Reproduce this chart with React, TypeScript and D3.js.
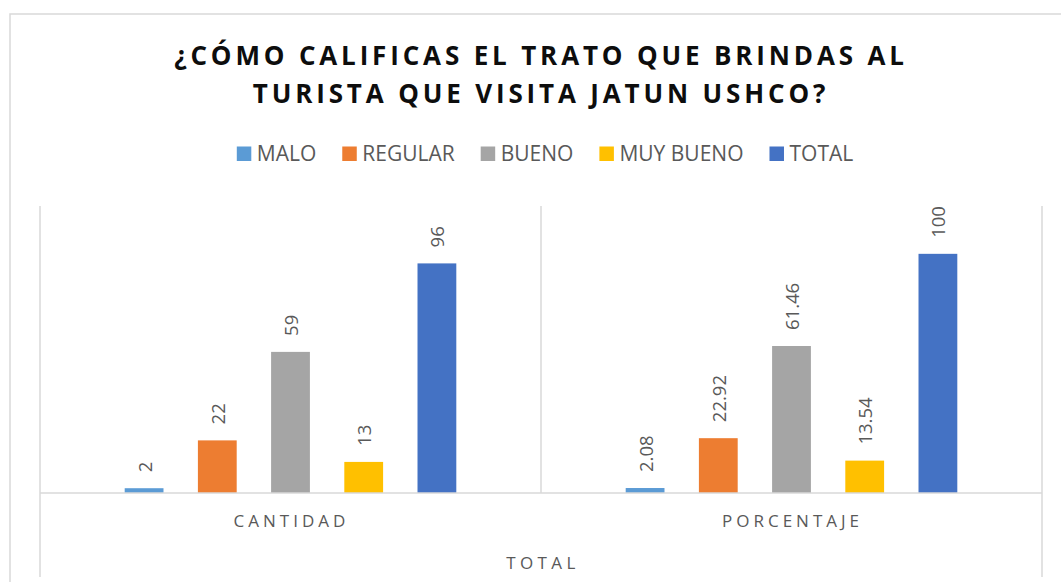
import { useEffect, useRef } from 'react'
import * as d3 from 'd3'

const titleLines = ['¿CÓMO CALIFICAS EL TRATO QUE BRINDAS AL', 'TURISTA QUE VISITA JATUN USHCO?']
const categories = ['CANTIDAD', 'PORCENTAJE']
const series = ['MALO', 'REGULAR', 'BUENO', 'MUY BUENO', 'TOTAL']
const colors = ['#5B9BD5', '#ED7D31', '#A5A5A5', '#FFC000', '#4472C4']
const cantidad = [2, 22, 59, 13, 96]
const porcentaje = [2.08, 22.92, 61.46, 13.54, 100]
const outerLabel = 'TOTAL'

const Chart = () => {
    const ref = useRef<SVGSVGElement | null>(null)

    useEffect(() => {
        if (!ref.current) return
        const width = 1061
        const height = 582
        const svg = d3.select(ref.current)
        svg.selectAll('*').remove()
        svg.attr('width', width).attr('height', height)

        const font = "'Open Sans', 'Noto Sans', sans-serif"
        const grid = '#D9D9D9'
        const textColor = '#595959'

        // frame
        svg.append('rect')
            .attr('x', 10).attr('y', 14)
            .attr('width', 1100).attr('height', 620)
            .attr('fill', '#fff')
            .attr('stroke', grid).attr('stroke-width', 1.5)

        // title
        const title = svg.append('text')
            .attr('text-anchor', 'middle')
            .attr('font-family', font)
            .attr('font-weight', 700)
            .attr('font-size', 26)
            .attr('letter-spacing', 3.85)
            .attr('fill', '#0D0D0D')
        titleLines.forEach((t, i) => {
            title.append('tspan').attr('x', 541).attr('y', 65 + i * 38).text(t)
        })

        // legend
        const legend = svg.append('g')
        const items = legend.selectAll('g').data(series).join('g')
        items.append('rect')
            .attr('y', 146.5).attr('width', 14.5).attr('height', 14.5)
            .attr('fill', (_, i) => colors[i])
        items.append('text')
            .attr('y', 161)
            .attr('font-family', font)
            .attr('font-size', 21)
            .attr('fill', textColor)
            .text(d => d)
        let cx = 0
        const positions: number[] = []
        items.each(function () {
            const w = (d3.select(this).select('text').node() as SVGTextElement).getComputedTextLength()
            positions.push(cx)
            cx += 20 + w + 26
        })
        const total = cx - 26
        const start = 545 - total / 2
        items.each(function (_, i) {
            const g = d3.select(this)
            g.select('rect').attr('x', start + positions[i])
            g.select('text').attr('x', start + positions[i] + 20)
        })

        // scales
        const x0 = d3.scaleBand().domain(categories).range([40, 1042]).padding(0)
        const x1 = d3.scaleBand().domain(series).range([0, x0.bandwidth()])
            .paddingInner(0.47).paddingOuter(1.157)
        const y = d3.scaleLinear().domain([0, 120]).range([493, 206])

        // vertical divider lines
        svg.append('line').attr('x1', 40).attr('x2', 40).attr('y1', 206).attr('y2', 577)
            .attr('stroke', grid).attr('stroke-width', 1.5)
        svg.append('line').attr('x1', 1042).attr('x2', 1042).attr('y1', 206).attr('y2', 577)
            .attr('stroke', grid).attr('stroke-width', 1.5)
        categories.slice(1).forEach(c => {
            const xx = x0(c)!
            svg.append('line').attr('x1', xx).attr('x2', xx).attr('y1', 206).attr('y2', y(0))
                .attr('stroke', grid).attr('stroke-width', 1.5)
        })

        const data = [cantidad, porcentaje]
        const groups = svg.selectAll('g.grp').data(categories).join('g')
            .attr('class', 'grp')
            .attr('transform', c => `translate(${x0(c)},0)`)

        groups.each(function (_, gi) {
            const g = d3.select(this)
            const vals = data[gi]
            g.selectAll('rect').data(vals).join('rect')
                .attr('x', (_, i) => x1(series[i])!)
                .attr('y', d => y(d))
                .attr('width', x1.bandwidth())
                .attr('height', d => y(0) - y(d))
                .attr('fill', (_, i) => colors[i])
            g.selectAll('text').data(vals).join('text')
                .attr('transform', (d, i) =>
                    `translate(${x1(series[i])! + x1.bandwidth() / 2},${y(d) - 16}) rotate(-90)`)
                .attr('dominant-baseline', 'central')
                .attr('font-family', font)
                .attr('font-size', 18.5)
                .attr('fill', textColor)
                .text(d => String(d))
        })

        // baseline
        svg.append('line').attr('x1', 40).attr('x2', 1042).attr('y1', y(0)).attr('y2', y(0))
            .attr('stroke', grid).attr('stroke-width', 1.5)

        // category labels
        svg.selectAll('text.cat').data(categories).join('text')
            .attr('class', 'cat')
            .attr('x', c => x0(c)! + x0.bandwidth() / 2 + 1)
            .attr('y', 527)
            .attr('text-anchor', 'middle')
            .attr('font-family', font)
            .attr('font-size', 17)
            .attr('letter-spacing', 4)
            .attr('fill', textColor)
            .text(c => c)

        svg.append('text')
            .attr('x', 543).attr('y', 569)
            .attr('text-anchor', 'middle')
            .attr('font-family', font)
            .attr('font-size', 17)
            .attr('letter-spacing', 4.4)
            .attr('fill', textColor)
            .text(outerLabel)
    }, [])

    return <svg ref={ref} style={{ position: 'absolute', left: 0, top: 0 }}></svg>
}

export default function App() {
    return (
        <div>
            <Chart />
        </div>
    )
}
